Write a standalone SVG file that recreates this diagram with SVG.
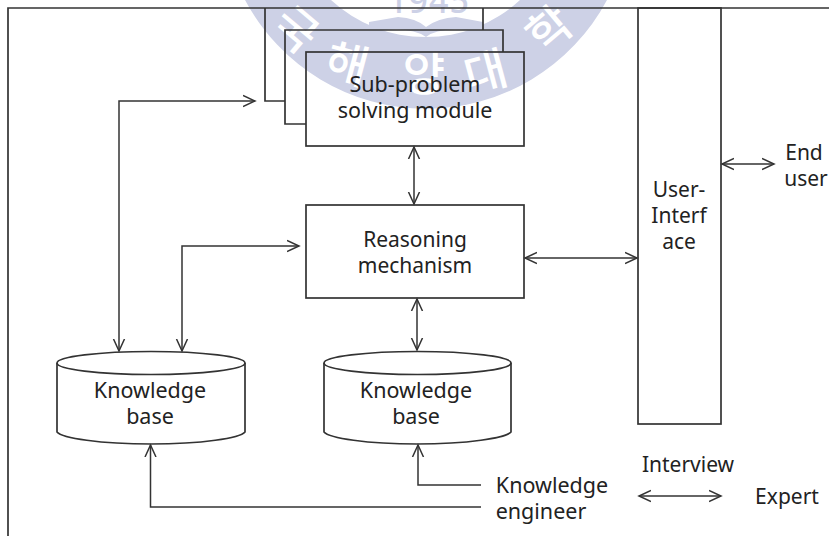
<svg xmlns="http://www.w3.org/2000/svg" width="829" height="536" viewBox="0 0 829 536">
<defs>
<marker id="a" markerWidth="14" markerHeight="14" refX="12" refY="6" orient="auto-start-reverse" markerUnits="userSpaceOnUse" viewBox="0 0 14 12"><path d="M0 0.500L12 6L0 11.500" fill="none" stroke="#333" stroke-width="1.5"/></marker>
</defs>
<style>
text{font-family:"Noto Sans","Noto Sans CJK KR",sans-serif;font-size:21px;fill:#222;text-anchor:middle}
.w{font-family:"Noto Sans CJK KR",sans-serif;font-size:46px;font-weight:500;fill:#fff}
.n{font-family:"Noto Sans",sans-serif;font-size:34px;font-weight:500;fill:#cdd1e6;letter-spacing:1px}
.t{fill:none;stroke:#333;stroke-width:1.7}
.c{fill:none;stroke:#333;stroke-width:1.5;marker-start:url(#a);marker-end:url(#a)}
.s{fill:none;stroke:#333;stroke-width:1.5;marker-end:url(#a)}
</style>
<rect width="829" height="536" fill="#fff"/>
<g id="watermark">
<path d="M245 0A205 205 0 0 0 607 0L520 0A139 139 0 0 1 331 0Z" fill="#cdd1e6"/>
<path d="M369 22L398 17Q416 18 426 27Q438 18 456 17L483 22L483 32Q440 25 426 37Q410 25 369 32Z" fill="#cdd1e6"/>
<text class="n" x="429" y="13">1945</text>
<text class="w" transform="translate(343 80) rotate(15)">해</text>
<text class="w" x="424" y="90">양</text>
<text class="w" transform="translate(490 88) rotate(-15)">대</text>
<text class="w" transform="translate(285 42) rotate(40)">국</text>
<text class="w" transform="translate(560 42) rotate(-40)">학</text>
</g>
<path class="t" d="M8 536V8H829"/>
<g id="module-back"><path class="t" d="M483 8V30M285 101H265V8"/></g>
<g id="module-mid"><path class="t" d="M306 124H285V30H503V52"/></g>
<g id="module-front"><rect class="t" x="306" y="52" width="218" height="94"/><text x="415" y="92" style="font-size:21.500px">Sub-problem</text><text x="415" y="118" style="font-size:21.500px">solving module</text></g>
<g id="reasoning"><rect class="t" x="306" y="205" width="218" height="93"/><text x="415" y="247">Reasoning</text><text x="415" y="273">mechanism</text></g>
<g id="ui"><rect class="t" x="638" y="8" width="83" height="416"/><text x="679" y="197">User-</text><text x="679" y="223">Interf</text><text x="679" y="249">ace</text></g>
<g id="kb1"><path class="t" d="M57 363V432C62 438 100 444 151 444S240 438 245 432V363"/><ellipse class="t" cx="151" cy="363" rx="94" ry="11.500"/><text x="150" y="398" style="font-size:21.500px">Knowledge</text><text x="150" y="424" style="font-size:21.500px">base</text></g>
<g id="kb2"><path class="t" d="M324 363V432C329 438 367 444 417 444S506 438 511 432V363"/><ellipse class="t" cx="417.500" cy="363" rx="93.500" ry="11.500"/><text x="416" y="398" style="font-size:21.500px">Knowledge</text><text x="416" y="424" style="font-size:21.500px">base</text></g>
<g id="labels"><text x="804" y="160">End</text><text x="806" y="186">user</text><text x="552" y="493" style="font-size:21.500px">Knowledge</text><text x="541" y="519" style="font-size:21.500px">engineer</text><text x="688" y="472">Interview</text><text x="787" y="504">Expert</text></g>
<g id="connectors">
<path class="c" d="M255 101H119V351"/>
<path class="c" d="M299 246H182V351"/>
<path class="c" d="M414 147V204"/>
<path class="c" d="M417 299V350"/>
<path class="c" d="M525 258H637"/>
<path class="c" d="M722 164H774"/>
<path class="c" d="M639 496H721"/>
<path class="s" d="M481 507H150.500V445"/>
<path class="s" d="M481 485H418V445"/>
</g>
</svg>
